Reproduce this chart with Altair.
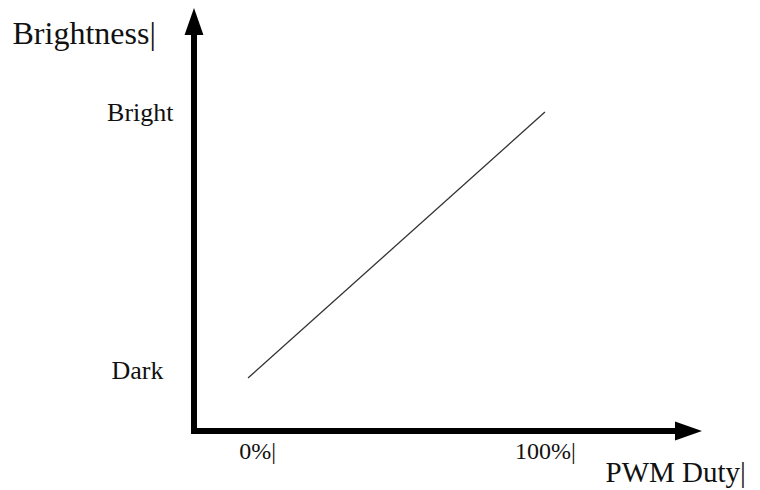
import altair as alt
import pandas as pd

# data
duty = [0, 100]
brightness = [0, 100]
x_ticks = [0, 100]
x_tick_labels = ["0%|", "100%|"]
y_ticks = [0, 100]
y_tick_labels = ["Dark", "Bright"]
x_title = "PWM Duty|"
y_title = "Brightness|"

# axis extents (data units)
X_MIN, X_MAX = -18.2, 152.9
Y_MIN, Y_MAX = -19.9, 139.1

FONT = "Liberation Serif"
INK = "#111111"

line_df = pd.DataFrame({"duty": duty, "brightness": brightness})
xshaft = pd.DataFrame({"duty": [X_MIN], "x2": [X_MAX], "brightness": [Y_MIN]})
yshaft = pd.DataFrame({"duty": [X_MIN], "brightness": [Y_MIN], "y2": [Y_MAX]})
xhead = pd.DataFrame({"duty": [X_MAX], "brightness": [Y_MIN]})
yhead = pd.DataFrame({"duty": [X_MIN], "brightness": [Y_MAX]})

xs = alt.Scale(domain=[X_MIN, X_MAX], nice=False, zero=False)
ys = alt.Scale(domain=[Y_MIN, Y_MAX], nice=False, zero=False)


def lab_expr(vals, labs):
    expr = "''"
    for v, l in zip(vals, labs):
        expr = f"datum.value == {v} ? '{l}' : ({expr})"
    return expr


x_axis = alt.Axis(
    values=x_ticks,
    labelExpr=lab_expr(x_ticks, x_tick_labels),
    domain=False, ticks=False, grid=False,
    labelFont=FONT, labelFontSize=24, labelColor=INK,
    labelPadding=8, labelFlush=False,
    labelOffset={"condition": {"test": "datum.value == 0", "value": 9}, "value": 0},
    title=x_title, titleFont=FONT, titleFontSize=29, titleFontWeight="normal",
    titleColor=INK, titleAngle=0, titleAlign="left", titleBaseline="alphabetic",
    titleX=411, titleY=50,
)
y_axis = alt.Axis(
    values=y_ticks,
    labelExpr=lab_expr(y_ticks, y_tick_labels),
    domain=False, ticks=False, grid=False,
    labelFont=FONT, labelFontSize=26, labelColor=INK,
    labelAlign="right", labelBaseline="middle", labelFlush=False,
    labelPadding={"condition": {"test": "datum.value == 0", "value": 31}, "value": 21},
    labelOffset={"condition": {"test": "datum.value == 0", "value": -8}, "value": 0},
    title=y_title, titleFont=FONT, titleFontSize=32, titleFontWeight="normal",
    titleColor=INK, titleAngle=0, titleAlign="left", titleBaseline="alphabetic",
    titleX=-182, titleY=35,
)

X = alt.X("duty:Q", scale=xs, axis=x_axis, title=x_title)
Y = alt.Y("brightness:Q", scale=ys, axis=y_axis, title=y_title)

line = alt.Chart(line_df).mark_line(color="#333333", strokeWidth=1.3).encode(x=X, y=Y)

xs_rule = alt.Chart(xshaft).mark_rule(
    color="black", strokeWidth=6, strokeCap="square", x2Offset=-20
).encode(x=X, x2="x2:Q", y=Y)

ys_rule = alt.Chart(yshaft).mark_rule(
    color="black", strokeWidth=6, strokeCap="square", y2Offset=20
).encode(x=X, y=Y, y2="y2:Q")

x_arrow = alt.Chart(xhead).mark_point(
    shape="M0,0L-2,-0.7L-2,0.7Z", size=729, filled=True, color="black", opacity=1, strokeWidth=0
).encode(x=X, y=Y)

y_arrow = alt.Chart(yhead).mark_point(
    shape="M0,0L0.7,2L-0.7,2Z", size=729, filled=True, color="black", opacity=1, strokeWidth=0
).encode(x=X, y=Y)

chart = alt.layer(line, xs_rule, ys_rule, x_arrow, y_arrow).properties(
    width=508, height=423,
    autosize=alt.AutoSizeParams(type="none"),
    padding={"left": 186, "top": 0, "right": 50, "bottom": 58},
    background="white",
).configure_view(stroke=None)

chart.save("out.html", embed_options={"renderer": "svg", "actions": False})
